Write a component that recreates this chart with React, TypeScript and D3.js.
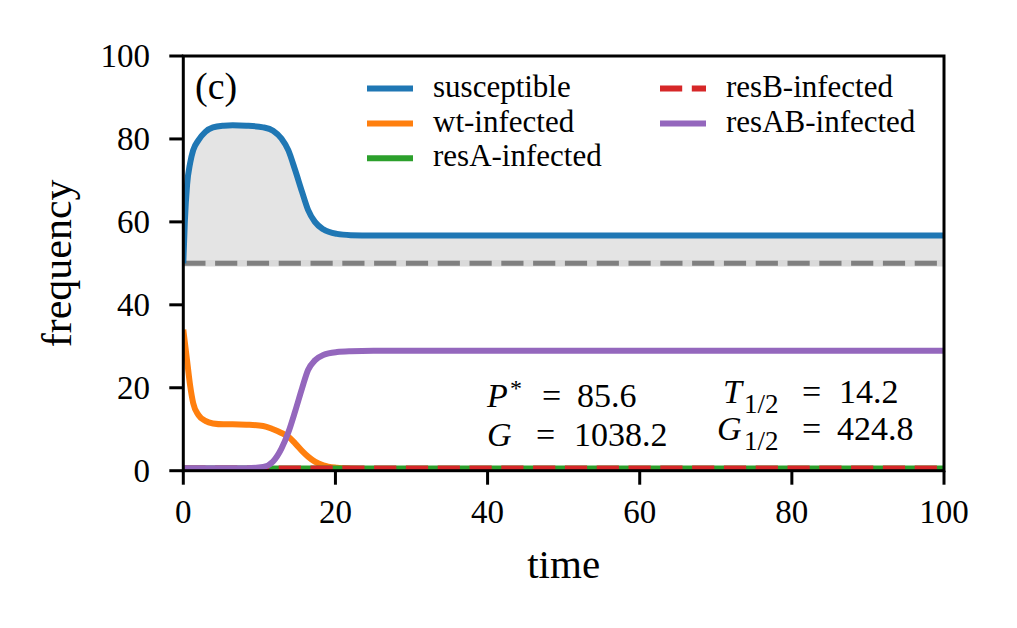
import React from 'react';
import * as d3 from 'd3';

const time = [0, 0.2, 0.5, 0.9, 1.3, 2, 2.9, 3.9, 5.3, 6.5, 8.3, 10.5, 11.8, 12.9, 13.8, 14.7, 15.6, 16.4, 17.3, 18.4, 20.2, 22, 25, 30, 40, 50, 60, 70, 80, 90, 100];
const susceptible = [50, 60, 69, 74.2, 77.3, 79.7, 81.7, 82.8, 83.2, 83.3, 83.2, 82.8, 82.0, 80.1, 77.3, 72.5, 67.3, 62.9, 60.0, 58.2, 57.1, 56.8, 56.7, 56.7, 56.7, 56.7, 56.7, 56.7, 56.7, 56.7, 56.7];
const wtInfected = [34, 31, 26.5, 20.5, 16.3, 13.4, 12.0, 11.4, 11.2, 11.2, 11.1, 10.8, 10.0, 9.1, 8.2, 6.6, 4.8, 3.4, 2.2, 1.3, 0.7, 0.5, 0.4, 0.4, 0.4, 0.4, 0.4, 0.4, 0.4, 0.4, 0.4];
const resAInfected = [0.55, 0.55, 0.55, 0.55, 0.55, 0.55, 0.55, 0.55, 0.55, 0.55, 0.55, 0.55, 0.55, 0.55, 0.55, 0.55, 0.55, 0.55, 0.55, 0.55, 0.55, 0.55, 0.55, 0.55, 0.55, 0.55, 0.55, 0.55, 0.55, 0.55, 0.55];
const resBInfected = [0.55, 0.55, 0.55, 0.55, 0.55, 0.55, 0.55, 0.55, 0.55, 0.55, 0.55, 0.55, 0.55, 0.55, 0.55, 0.55, 0.55, 0.55, 0.55, 0.55, 0.55, 0.55, 0.55, 0.55, 0.55, 0.55, 0.55, 0.55, 0.55, 0.55, 0.55];
const resABInfected = [0.6, 0.6, 0.6, 0.6, 0.6, 0.6, 0.6, 0.6, 0.6, 0.6, 0.6, 0.9, 2.2, 5.3, 9.2, 14.3, 19.8, 24.3, 26.6, 27.9, 28.6, 28.8, 28.9, 28.9, 28.9, 28.9, 28.9, 28.9, 28.9, 28.9, 28.9];

const baseline = 50;
const xTicks = [0, 20, 40, 60, 80, 100];
const yTicks = [0, 20, 40, 60, 80, 100];

const seriesNames = ['susceptible', 'wt-infected', 'resA-infected', 'resB-infected', 'resAB-infected'];
const seriesColors = ['#1f77b4', '#ff7f0e', '#2ca02c', '#d62728', '#9467bd'];
const seriesValues = [susceptible, wtInfected, resAInfected, resBInfected, resABInfected];
const seriesDashed = [false, false, false, true, false];

const FONT = "'Liberation Serif', 'DejaVu Serif', serif";

export default function App() {
  const W = 1017, H = 628;
  const left = 183.3, right = 944, top = 56, bottom = 470.7;
  const x = d3.scaleLinear().domain([0, 100]).range([left, right]);
  const y = d3.scaleLinear().domain([0, 100]).range([bottom, top]);

  const line = (vals: number[]) =>
    d3.line<number>().x((_, i) => x(time[i])).y((d) => y(d)).curve(d3.curveMonotoneX)(vals) || '';
  const area = d3.area<number>()
    .x((_, i) => x(time[i]))
    .y0(() => y(baseline))
    .y1((d) => y(d))
    .curve(d3.curveMonotoneX)(susceptible) || '';

  const legendRows = [
    { i: 0, hx: 367, ty: 88.5 },
    { i: 1, hx: 367, ty: 123.5 },
    { i: 2, hx: 367, ty: 158.3 },
    { i: 3, hx: 660, ty: 88.5 },
    { i: 4, hx: 660, ty: 123.5 },
  ];

  return (
    <svg width={W} height={H} style={{ position: 'absolute', left: 0, top: 0, background: '#fff' }} fontFamily={FONT}>
      <defs>
        <clipPath id="plotclip">
          <rect x={left} y={top} width={right - left} height={bottom - top} />
        </clipPath>
      </defs>
      <rect x={0} y={0} width={W} height={H} fill="#fff" />
      <g clipPath="url(#plotclip)">
        <path d={area} fill="#e4e4e4" />
        <line x1={x(0)} x2={x(100)} y1={y(baseline)} y2={y(baseline)} stroke="#dadada" strokeWidth={6.5} />
        <line x1={x(0)} x2={x(100)} y1={y(baseline)} y2={y(baseline)} stroke="#808080" strokeWidth={5} strokeDasharray="22.2,9.6" />
        {seriesValues.map((vals, i) => (
          <path key={i} d={line(vals)} fill="none" stroke={seriesColors[i]} strokeWidth={6}
            strokeDasharray={seriesDashed[i] ? '22.2,9.6' : undefined} />
        ))}
      </g>
      {/* spines */}
      <rect x={left} y={top} width={right - left} height={bottom - top} fill="none" stroke="#000" strokeWidth={3} />
      {/* x ticks */}
      {xTicks.map((t) => (
        <g key={'x' + t}>
          <line x1={x(t)} x2={x(t)} y1={bottom} y2={bottom + 14} stroke="#000" strokeWidth={3} />
          <text x={x(t)} y={523} fontSize={33} textAnchor="middle" fill="#000">{t}</text>
        </g>
      ))}
      {/* y ticks */}
      {yTicks.map((t) => (
        <g key={'y' + t}>
          <line x1={left - 14} x2={left} y1={y(t)} y2={y(t)} stroke="#000" strokeWidth={3} />
          <text x={150} y={y(t) + 11} fontSize={33} textAnchor="end" fill="#000">{t}</text>
        </g>
      ))}
      {/* axis labels */}
      <text x={(left + right) / 2} y={578} fontSize={41} textAnchor="middle" fill="#000">time</text>
      <text transform={`translate(71, ${(top + bottom) / 2}) rotate(-90)`} fontSize={42} textAnchor="middle" fill="#000">frequency</text>
      {/* panel label */}
      <text x={195} y={99} fontSize={38} fill="#000">(c)</text>
      {/* legend */}
      {legendRows.map(({ i, hx, ty }) => (
        <g key={'lg' + i}>
          <line x1={hx} x2={hx + 46} y1={ty} y2={ty} stroke={seriesColors[i]} strokeWidth={6}
            strokeDasharray={seriesDashed[i] ? '22.2,9.6' : undefined} />
          <text x={hx + 66} y={ty + 8} fontSize={31} fill="#000">{seriesNames[i]}</text>
        </g>
      ))}
      {/* annotations */}
      <g fontSize={34} fill="#000">
        <text x={487} y={407} fontStyle="italic">P</text>
        <text x={510} y={396} fontSize={24}>*</text>
        <text x={542} y={407}>=</text>
        <text x={577} y={407}>85.6</text>

        <text x={487} y={446} fontStyle="italic">G</text>
        <text x={536} y={446}>=</text>
        <text x={574} y={446}>1038.2</text>

        <text x={723} y={403} fontStyle="italic">T</text>
        <text x={744} y={413} fontSize={27}>1/2</text>
        <text x={802} y={403}>=</text>
        <text x={839} y={403}>14.2</text>

        <text x={717} y={440} fontStyle="italic">G</text>
        <text x={744} y={450} fontSize={27}>1/2</text>
        <text x={802} y={440}>=</text>
        <text x={837} y={440}>424.8</text>
      </g>
    </svg>
  );
}
